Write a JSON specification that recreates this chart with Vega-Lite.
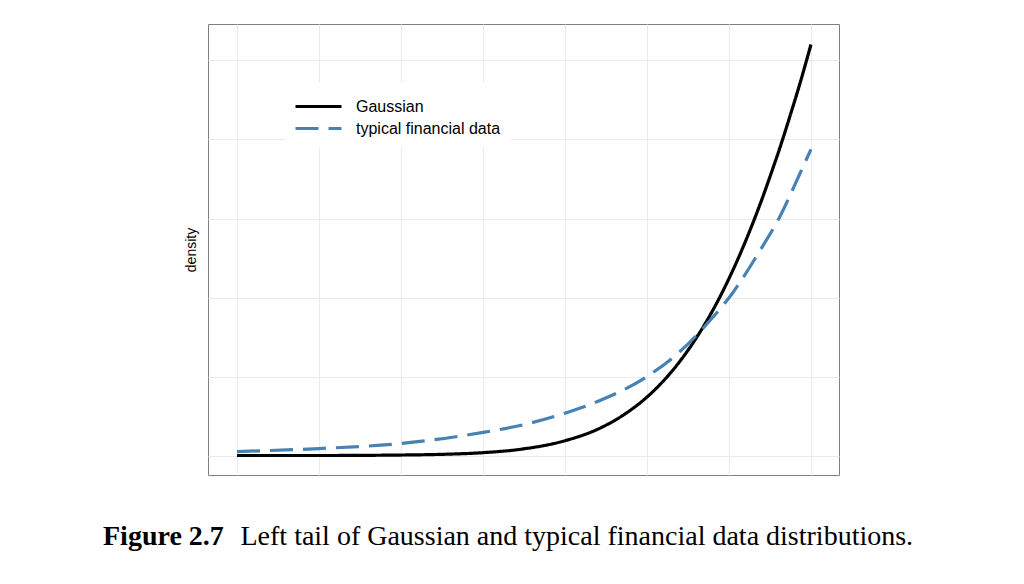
{
  "$schema": "https://vega.github.io/schema/vega-lite/v6.json",
  "width": 631,
  "height": 451,
  "autosize": {"type": "none"},
  "padding": {"left": 208, "top": 24, "right": 185, "bottom": 109},
  "background": "white",
  "config": {
    "view": {"stroke": "#808080", "strokeWidth": 1},
    "axis": {"gridColor": "#ebebeb", "gridWidth": 1, "gridOpacity": 1}
  },
  "title": {
    "text": "Figure 2.7",
    "orient": "bottom",
    "anchor": "start",
    "frame": "group",
    "font": "Liberation Serif",
    "fontSize": 28,
    "fontWeight": "bold",
    "color": "black",
    "dx": -105,
    "dy": -27,
    "offset": 0
  },
  "data": {
    "values": [
      {"x": -4.0, "y": 0.0, "series": "Gaussian"},
      {"x": -3.5, "y": 0.0, "series": "Gaussian"},
      {"x": -3.0, "y": 0.0003, "series": "Gaussian"},
      {"x": -2.7622, "y": 0.0007, "series": "Gaussian"},
      {"x": -2.5, "y": 0.0018, "series": "Gaussian"},
      {"x": -2.2744, "y": 0.0039, "series": "Gaussian"},
      {"x": -2.0061, "y": 0.0092, "series": "Gaussian"},
      {"x": -1.7866, "y": 0.0173, "series": "Gaussian"},
      {"x": -1.6341, "y": 0.0263, "series": "Gaussian"},
      {"x": -1.5, "y": 0.037, "series": "Gaussian"},
      {"x": -1.3902, "y": 0.0483, "series": "Gaussian"},
      {"x": -1.2988, "y": 0.0597, "series": "Gaussian"},
      {"x": -1.1951, "y": 0.0751, "series": "Gaussian"},
      {"x": -1.1159, "y": 0.0887, "series": "Gaussian"},
      {"x": -1.0366, "y": 0.1042, "series": "Gaussian"},
      {"x": -0.9512, "y": 0.123, "series": "Gaussian"},
      {"x": -0.872, "y": 0.1425, "series": "Gaussian"},
      {"x": -0.811, "y": 0.1588, "series": "Gaussian"},
      {"x": -0.7317, "y": 0.1819, "series": "Gaussian"},
      {"x": -0.689, "y": 0.1949, "series": "Gaussian"},
      {"x": -0.628, "y": 0.2148, "series": "Gaussian"},
      {"x": -0.5671, "y": 0.2355, "series": "Gaussian"},
      {"x": -0.5, "y": 0.2601, "series": "Gaussian"},
      {"x": -4.0, "y": 0.0025, "series": "typical financial data"},
      {"x": -3.5, "y": 0.0044, "series": "typical financial data"},
      {"x": -3.0, "y": 0.0076, "series": "typical financial data"},
      {"x": -2.5, "y": 0.0146, "series": "typical financial data"},
      {"x": -2.2744, "y": 0.019, "series": "typical financial data"},
      {"x": -2.0061, "y": 0.0266, "series": "typical financial data"},
      {"x": -1.7866, "y": 0.0348, "series": "typical financial data"},
      {"x": -1.5, "y": 0.05, "series": "typical financial data"},
      {"x": -1.2988, "y": 0.0658, "series": "typical financial data"},
      {"x": -1.1159, "y": 0.0854, "series": "typical financial data"},
      {"x": -0.9756, "y": 0.1032, "series": "typical financial data"},
      {"x": -0.811, "y": 0.1297, "series": "typical financial data"},
      {"x": -0.689, "y": 0.1513, "series": "typical financial data"},
      {"x": -0.5671, "y": 0.1785, "series": "typical financial data"},
      {"x": -0.5, "y": 0.1937, "series": "typical financial data"}
    ]
  },
  "mark": {"type": "line", "strokeWidth": 3.2, "interpolate": "monotone"},
  "encoding": {
    "x": {
      "field": "x",
      "type": "quantitative",
      "scale": {"domain": [-4.177, -0.329], "nice": false, "zero": false},
      "axis": {
        "values": [-4, -3.5, -3, -2.5, -2, -1.5, -1, -0.5],
        "grid": true,
        "labels": false,
        "ticks": false,
        "domain": false,
        "title": "Left tail of Gaussian and typical financial data distributions.",
        "titleFont": "Liberation Serif",
        "titleFontSize": 28,
        "titleFontWeight": "normal",
        "titleColor": "black",
        "titleAlign": "left",
        "titleAnchor": null,
        "titleBaseline": "alphabetic",
        "titleX": 32,
        "titleY": 69
      }
    },
    "y": {
      "field": "y",
      "type": "quantitative",
      "scale": {"domain": [-0.01234, 0.2731], "nice": false, "zero": false},
      "axis": {
        "values": [0, 0.05, 0.1, 0.15, 0.2, 0.25],
        "grid": true,
        "labels": false,
        "ticks": false,
        "domain": false,
        "title": "density",
        "titleFont": "Liberation Sans",
        "titleFontSize": 14,
        "titleFontWeight": "normal",
        "titleColor": "black",
        "titlePadding": 10
      }
    },
    "color": {
      "field": "series",
      "type": "nominal",
      "scale": {"domain": ["Gaussian", "typical financial data"], "range": ["#000000", "#4682b4"]},
      "legend": {
        "orient": "none",
        "legendX": 78,
        "legendY": 59,
        "title": null,
        "fillColor": "white",
        "padding": 10,
        "symbolType": "M-2,0H2",
        "symbolSize": 529,
        "symbolOffset": 9,
        "symbolStrokeWidth": 3.2,
        "labelFont": "Liberation Sans",
        "labelFontSize": 16,
        "labelColor": "black",
        "labelOffset": 24,
        "rowPadding": 0
      }
    },
    "strokeDash": {
      "field": "series",
      "type": "nominal",
      "scale": {"domain": ["Gaussian", "typical financial data"], "range": [[1, 0], [23, 10]]},
      "legend": {
        "orient": "none",
        "legendX": 78,
        "legendY": 59,
        "title": null,
        "fillColor": "white",
        "padding": 10,
        "symbolType": "M-2,0H2",
        "symbolSize": 529,
        "symbolOffset": 9,
        "symbolStrokeWidth": 3.2,
        "labelFont": "Liberation Sans",
        "labelFontSize": 16,
        "labelColor": "black",
        "labelOffset": 24,
        "rowPadding": 0
      }
    }
  }
}
